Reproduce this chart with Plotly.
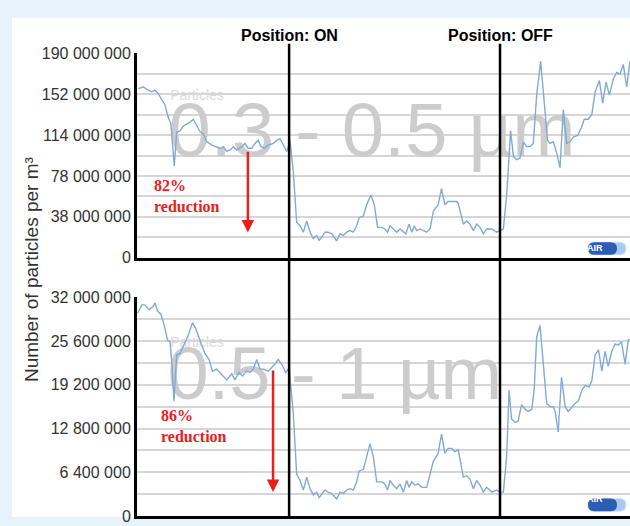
import plotly.graph_objects as go

W, H = 630, 526

# sample times (minutes) and particle counts (millions per m3)
t_small = [0.4, 2.1, 3.7, 4.9, 5.9, 7.0, 8.2, 9.2, 10.3, 11.2, 12.3, 13.1, 14.2, 15.3, 16.4, 17.5,
           18.6, 19.7, 20.8, 21.9, 23.0, 24.7, 26.3, 27.4, 28.5, 29.6, 30.7, 31.8, 32.9, 34.6,
           35.6, 36.7, 37.9, 38.9, 40.0, 40.9, 42.2, 43.3, 45.0, 46.1, 47.2, 48.3, 49.4, 50.5,
           51.6, 52.7, 53.8, 54.9, 56.0, 57.1, 58.2, 59.3, 60.1, 61.0, 62.0, 63.1, 64.3, 65.9,
           67.0, 68.1, 69.2, 70.3, 71.4, 72.5, 73.3, 74.7, 75.8, 77.2, 78.3, 79.4, 80.8, 81.8,
           82.7, 83.5, 84.6, 85.7, 86.8, 87.9, 88.7, 89.8, 90.7, 91.5, 92.3, 93.4, 94.5, 95.6,
           96.7, 97.8, 99.4, 100.5, 101.6, 102.7, 104.4, 105.5, 106.0, 107.7, 108.8, 109.9,
           111.0, 112.1, 113.2, 114.3, 115.4, 117.1, 118.7, 119.8, 120.9, 122.0, 123.3, 124.2,
           125.3, 126.4, 127.5, 128.6, 129.7, 130.8, 131.9, 133.2, 134.4, 135.5, 136.3, 137.4,
           138.5, 139.6, 140.7, 141.8, 142.9, 144.0, 145.4, 146.7, 147.6, 148.9, 150.1, 151.2,
           152.6, 153.7, 154.8, 155.9, 157.2, 158.3, 159.4, 160.5, 161.6, 162.7]
v_small = [157.3, 158.8, 155.8, 154.3, 155.8, 152.8, 146.8, 142.3, 130.6, 124.3, 85.3, 117.1,
           118.0, 122.5, 124.3, 126.1, 128.8, 122.5, 117.1, 115.3, 108.1, 104.7, 103.3, 101.8,
           103.3, 98.8, 100.2, 103.3, 100.2, 103.3, 106.3, 101.8, 101.8, 106.3, 109.2, 103.3,
           101.8, 104.7, 106.3, 109.2, 110.8, 104.7, 98.8, 109.0, 79.2, 32.7, 29.7, 23.7, 34.2,
           23.7, 17.7, 20.7, 16.2, 19.2, 23.7, 23.7, 22.2, 15.6, 22.2, 20.7, 23.7, 25.2, 23.7,
           29.7, 37.2, 38.7, 49.3, 58.3, 49.3, 28.2, 28.2, 26.7, 23.7, 29.7, 26.7, 23.7, 26.7,
           23.7, 22.2, 31.2, 23.7, 29.7, 25.2, 26.7, 25.2, 23.7, 26.7, 43.2, 49.3, 64.2, 49.3,
           52.2, 52.2, 52.2, 50.7, 31.2, 34.2, 31.2, 25.2, 31.2, 28.2, 22.2, 26.7, 26.7, 23.7,
           25.2, 26.7, 58.3, 118.2, 94.3, 91.2, 92.8, 107.8, 103.3, 103.3, 106.3, 151.3, 182.8,
           145.3, 109.2, 106.3, 107.8, 97.3, 83.7, 137.8, 106.3, 107.8, 112.3, 113.7, 121.3,
           128.8, 128.8, 133.3, 154.3, 164.8, 143.8, 163.3, 151.3, 166.3, 172.3, 170.8, 179.8,
           158.8, 182.8]

t_large = [0.2, 1.6, 2.6, 4.0, 5.4, 5.9, 6.8, 7.9, 9.0, 10.1, 10.9, 11.5, 12.2, 13.1, 14.2,
           15.3, 16.9, 18.3, 19.4, 20.8, 22.4, 23.8, 24.9, 26.3, 27.7, 29.6, 31.3, 32.3, 33.7,
           34.8, 36.2, 37.3, 38.4, 39.5, 40.6, 41.7, 43.3, 44.5, 45.5, 46.6, 47.8, 49.1, 50.2,
           51.6, 52.7, 53.8, 54.9, 56.0, 57.1, 58.2, 59.3, 60.1, 61.0, 62.0, 63.1, 64.3, 65.9,
           67.0, 68.1, 69.2, 70.3, 71.4, 72.5, 73.3, 74.7, 75.8, 76.9, 78.0, 79.1, 80.8, 81.8,
           82.7, 83.5, 84.6, 85.7, 86.8, 87.9, 89.0, 89.8, 90.7, 91.7, 92.8, 94.0, 95.6, 96.7,
           97.8, 99.4, 100.5, 101.6, 102.7, 103.9, 104.9, 106.0, 107.7, 108.8, 109.9, 111.0,
           112.1, 113.2, 114.3, 115.4, 117.1, 118.7, 119.8, 120.9, 122.0, 122.8, 123.6, 124.8,
           125.8, 126.9, 128.1, 129.1, 130.3, 131.1, 131.9, 133.0, 134.1, 135.2, 136.3, 137.4,
           138.0, 139.0, 140.1, 141.3, 142.3, 143.5, 144.6, 145.6, 146.8, 147.9, 149.2, 150.1,
           151.2, 152.3, 153.4, 154.5, 155.5, 156.7, 157.8, 158.8, 159.9, 161.1, 162.1, 162.7]
v_large = [29.7, 30.9, 30.9, 30.2, 30.7, 31.2, 30.0, 29.5, 27.9, 25.7, 25.5, 22.4, 16.8, 23.6,
           23.8, 24.8, 26.4, 28.3, 27.4, 25.7, 23.8, 22.9, 21.2, 21.5, 20.8, 19.9, 20.8, 19.9,
           21.0, 20.5, 21.2, 21.0, 21.5, 22.9, 21.5, 21.5, 21.2, 21.7, 22.2, 22.9, 22.2, 21.0,
           21.7, 14.9, 6.1, 5.2, 3.8, 5.7, 4.0, 3.1, 3.5, 2.7, 3.3, 3.8, 3.5, 3.3, 2.5, 3.5, 3.3,
           3.8, 4.0, 3.8, 5.0, 6.6, 6.8, 8.7, 10.6, 8.7, 5.0, 5.0, 4.7, 3.8, 5.2, 4.5, 4.0, 4.7,
           3.5, 5.2, 4.2, 5.0, 4.5, 4.7, 4.2, 4.2, 6.1, 8.0, 9.2, 12.0, 9.2, 9.9, 9.9, 9.4, 9.7,
           5.7, 5.9, 5.4, 4.0, 5.2, 4.5, 3.5, 4.2, 3.5, 3.8, 3.5, 3.5, 8.7, 18.4, 14.2, 13.7,
           13.9, 16.3, 15.6, 15.3, 15.6, 18.6, 26.2, 27.9, 21.9, 16.5, 16.0, 16.0, 15.3, 12.3,
           20.3, 16.0, 15.3, 16.0, 16.5, 16.8, 18.4, 19.1, 18.9, 19.8, 23.6, 24.3, 21.2, 24.1,
           21.9, 24.1, 25.2, 25.0, 25.5, 22.2, 25.7, 25.9]

top_ticks = [0, 38e6, 76e6, 114e6, 152e6, 190e6]
top_labels = ["0", "38 000 000", "78 000 000", "114 000 000", "152 000 000", "190 000 000"]
bot_ticks = [0, 6.4e6, 12.8e6, 19.2e6, 25.6e6, 32e6]
bot_labels = ["0", "6 400 000", "12 800 000", "19 200 000", "25 600 000", "32 000 000"]

T_ON, T_OFF, T_END = 50.2, 119.8, 162.7
LINE = "#80aad9"
GRID = "#d6d6d6"
TICKFONT = dict(family="Liberation Sans Narrow, Arial Narrow, Liberation Sans", size=16, color="#333333")


def px(x, y):
    return x / W, 1 - y / H


fig = go.Figure()

# watermarks first so the line draws over them
fig.add_trace(go.Scatter(x=[77.6], y=[112.6e6], mode="text", text=["0.3 - 0.5 µm"],
                         textfont=dict(family="Liberation Sans", size=76, color="#cccccc"),
                         xaxis="x", yaxis="y", hoverinfo="skip"))
fig.add_trace(go.Scatter(x=[19.8], y=[149.5e6], mode="text", text=["Particles"],
                         textfont=dict(family="Liberation Sans", size=14, color="#dadada"),
                         xaxis="x", yaxis="y", hoverinfo="skip"))
fig.add_trace(go.Scatter(x=[65.3], y=[19.8e6], mode="text", text=["0.5 - 1 µm"],
                         textfont=dict(family="Liberation Sans", size=74, color="#cccccc"),
                         xaxis="x2", yaxis="y2", hoverinfo="skip"))
fig.add_trace(go.Scatter(x=[19.8], y=[25.2e6], mode="text", text=["Particles"],
                         textfont=dict(family="Liberation Sans", size=14, color="#dadada"),
                         xaxis="x2", yaxis="y2", hoverinfo="skip"))

fig.add_trace(go.Scatter(x=t_small, y=[v * 1e6 for v in v_small], mode="lines",
                         line=dict(color=LINE, width=1.4), xaxis="x", yaxis="y"))
fig.add_trace(go.Scatter(x=t_large, y=[v * 1e6 for v in v_large], mode="lines",
                         line=dict(color=LINE, width=1.4), xaxis="x2", yaxis="y2"))

xd = [137 / W, 1.0]
xax = dict(domain=xd, range=[0, T_END], showgrid=False, zeroline=False, showticklabels=False,
           ticks="", showline=True, linecolor="black", linewidth=3)
yax = dict(showline=True, linecolor="black", linewidth=3, zeroline=False, ticks="",
           showgrid=True, gridcolor=GRID, gridwidth=2, tickfont=TICKFONT, tickmode="array")

fig.update_layout(
    width=W, height=H, margin=dict(l=0, r=0, t=0, b=0),
    paper_bgcolor="#e6f3fb", plot_bgcolor="rgba(0,0,0,0)", showlegend=False,
    xaxis=dict(xax, anchor="y"),
    xaxis2=dict(xax, anchor="y2"),
    yaxis=dict(yax, domain=[px(0, 258)[1], px(0, 47)[1]], range=[0, 190e6], anchor="x",
               tickvals=top_ticks, ticktext=top_labels,
               minor=dict(tickmode="linear", tick0=0, dtick=19e6, showgrid=True,
                          gridcolor=GRID, gridwidth=2, ticks="")),
    yaxis2=dict(yax, domain=[px(0, 525)[1], px(0, 299)[1]], range=[0, 32e6], anchor="x2",
                tickvals=bot_ticks, ticktext=bot_labels,
                minor=dict(tickmode="linear", tick0=0, dtick=3.2e6, showgrid=True,
                           gridcolor=GRID, gridwidth=2, ticks="")),
)

# white page under the light-blue frame
x0, y1 = px(12, 10)
fig.add_shape(type="rect", xref="paper", yref="paper", x0=x0, x1=1, y0=0, y1=y1,
              fillcolor="white", line_width=0, layer="below")

# ON / OFF separators
for t in (T_ON, T_OFF):
    fig.add_shape(type="line", xref="x", yref="paper", x0=t, x1=t, y0=0, y1=px(0, 37)[1],
                  line=dict(color="black", width=2.5))

for label, t in (("Position: ON", T_ON), ("Position: OFF", T_OFF)):
    fig.add_annotation(x=t, y=px(0, 18)[1], xref="x", yref="paper", text=label, showarrow=False,
                       font=dict(family="Liberation Sans Narrow, Liberation Sans", size=16,
                                 color="black", weight="bold"))

ax_x, ax_y = px(19, 152)
fig.add_annotation(x=ax_x, y=ax_y, xref="paper", yref="paper", text="Number of particles per m³",
                   showarrow=False, textangle=-90,
                   font=dict(family="Liberation Sans", size=19, color="#333333"))

RED = "#e3231b"
for txt, (xp, yp) in (("82%<br>reduction", (152, 194)), ("86%<br>reduction", (159, 454))):
    a, b = px(xp, yp)
    fig.add_annotation(x=a, y=b, xref="paper", yref="paper", text=f"<b>{txt}</b>", showarrow=False,
                       xanchor="left", align="left",
                       font=dict(family="Liberation Serif", size=16, color=RED))

fig.add_annotation(x=36.6, y=23.4e6, ax=36.6, ay=100e6, xref="x", yref="y", axref="x", ayref="y",
                   text="", showarrow=True, arrowhead=2, arrowsize=1, arrowwidth=2.5, arrowcolor=RED)
fig.add_annotation(x=44.9, y=3.5e6, ax=44.9, ay=21.5e6, xref="x2", yref="y2", axref="x2", ayref="y2",
                   text="", showarrow=True, arrowhead=2, arrowsize=1, arrowwidth=2.5, arrowcolor=RED)


def pill(lx0, ly0, lx1, ly1):
    r = (ly1 - ly0) / 2
    ym = (ly0 + ly1) / 2
    pts = [("M", [(lx0 + r, ly0)]), ("L", [(lx1 - r, ly0)]), ("Q", [(lx1, ly0), (lx1, ym)]),
           ("Q", [(lx1, ly1), (lx1 - r, ly1)]), ("L", [(lx0 + r, ly1)]),
           ("Q", [(lx0, ly1), (lx0, ym)]), ("Q", [(lx0, ly0), (lx0 + r, ly0)])]
    s = ""
    for cmd, pp in pts:
        s += cmd + " ".join(f"{p[0] / W:.5f},{1 - p[1] / H:.5f}" for p in pp)
    return s + " Z"


# small AIR logos
for (lx0, ly0, lx1, ly1) in ((588, 242, 626, 255), (588, 507, 626, 520)):
    fig.add_shape(type="path", xref="paper", yref="paper", path=pill(lx0, ly0, lx1, ly1),
                  fillcolor="#a9c9f0", line=dict(color="#d2e2f6", width=1))
    fig.add_shape(type="path", xref="paper", yref="paper", path=pill(lx0, ly0, lx1 - 9, ly1),
                  fillcolor="#2b5db3", line_width=0)
    a, b = px((lx0 + lx1 - 9) / 2 + 1, (ly0 + ly1) / 2)
    fig.add_annotation(x=a, y=b, xref="paper", yref="paper", text="<b>AIR</b>", showarrow=False,
                       borderpad=0, font=dict(family="Liberation Sans", size=9, color="white"))

fig.write_html("out.html", config={"displayModeBar": False},
               post_script="document.body.style.margin='0px';")
